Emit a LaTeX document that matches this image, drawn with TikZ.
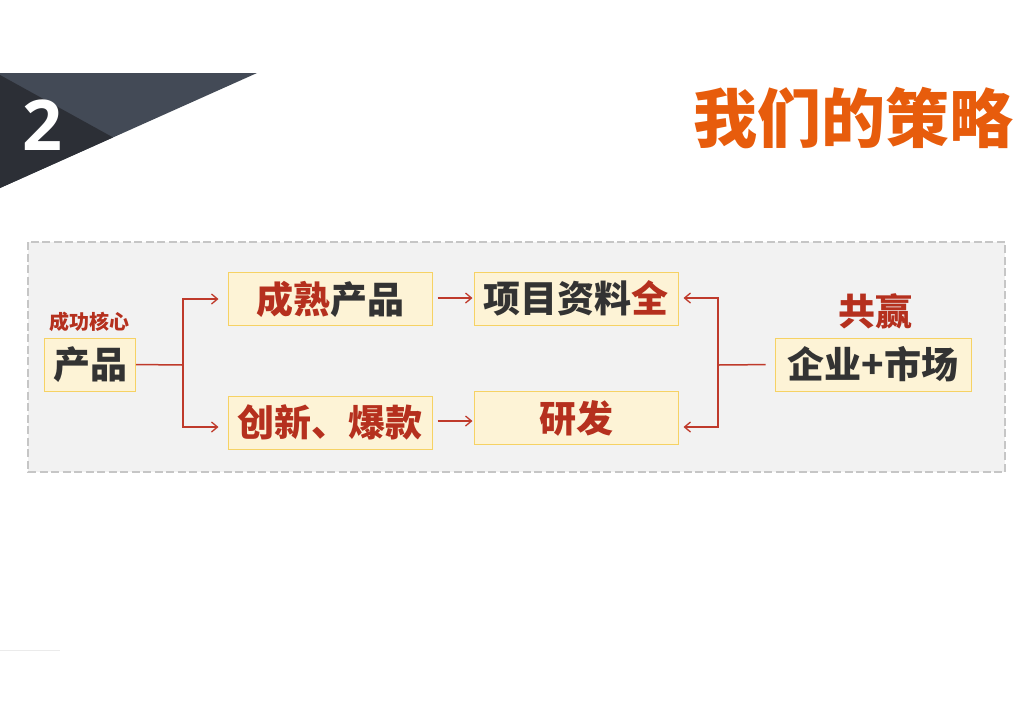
\documentclass[tikz,border=0pt]{standalone}
\usepackage{fontspec}
\setmainfont{Open Sans}
\newfontfamily\cjk{Noto Sans CJK SC}
\usetikzlibrary{arrows.meta}
\definecolor{hdrlight}{HTML}{434A56}
\definecolor{hdrdark}{HTML}{2C2F36}
\definecolor{titleorange}{HTML}{E75C0C}
\definecolor{accent}{HTML}{B5301E}
\definecolor{darktext}{HTML}{333333}
\definecolor{boxfill}{HTML}{FDF3D6}
\definecolor{boxline}{HTML}{F6D264}
\definecolor{panelfill}{HTML}{F2F2F2}
\definecolor{panelline}{HTML}{C6C6C6}
\definecolor{linkred}{HTML}{BF3A2B}
\newcommand\hl[1]{\textcolor{accent}{#1}}
\tikzset{
  box/.style={draw=boxline, fill=boxfill, line width=1pt, minimum height=53pt,
    inner sep=0pt, text=darktext, font=\cjk\bfseries\fontsize{37}{37}\selectfont},
  smallred/.style={inner sep=0pt, text=accent, font=\cjk\bfseries\fontsize{20}{20}\selectfont},
  bigred/.style={inner sep=0pt, text=accent, font=\cjk\bfseries\fontsize{37}{37}\selectfont},
  link/.style={draw=linkred, line width=1.5pt},
  arrowlink/.style={link, -{Straight Barb[length=6pt,width=10pt,line width=1.3pt]}},
}
\begin{document}
\begin{tikzpicture}[x=1pt,y=-1pt]
\useasboundingbox (0,0) rectangle (1024,724);
\fill[white] (0,0) rectangle (1024,724);
% header
\fill[hdrlight] (0,73) -- (257,73) -- (0,188) -- cycle;
\fill[hdrdark] (0,75) -- (113,137.4) -- (0,188) -- cycle;
\node[inner sep=0pt, text=white, font=\bfseries\fontsize{70}{70}\selectfont] (num) at (42.5,125) {2};
\node[inner sep=0pt, text=titleorange, font=\cjk\bfseries\fontsize{64}{64}\selectfont] (title) at (853,118) {我们的策略};
% faint line
\draw[draw=black!8, line width=1pt] (0,650) -- (60,650);
% panel
\draw[fill=panelfill, draw=panelline, line width=2pt, dash pattern=on 8pt off 3.5pt] (28,242) rectangle (1005,472);
% nodes
\node[box, minimum width=91pt] (p) at (90,364.5) {产品};
\node[smallred] (pl) at (89.5,322) {成功核心};
\node[box, minimum width=204pt] (m1) at (330,299) {\hl{成熟}产品};
\node[box, minimum width=204pt] (m2) at (330,422.5) {\hl{创新、爆款}};
\node[box, minimum width=204pt] (r1) at (576,298.5) {项目资料\hl{全}};
\node[box, minimum width=204pt] (r2) at (576,418) {\hl{研发}};
\node[box, minimum width=196pt] (e) at (873,364.5) {企业+市场};
\node[bigred] (gy) at (875,311) {共赢};
% connectors
\coordinate (j1) at (183,365);
\coordinate (j2) at (718,365);
\draw[link] (p.east) -- (j1);
\draw[arrowlink, shorten >=9pt] (j1) |- (m1.west);
\draw[arrowlink, shorten >=9pt] (j1) |- ([yshift=-4.5pt]m2.west);
\draw[arrowlink, shorten <=5pt, shorten >=1pt] ([yshift=1pt]m1.east) -- ([yshift=0.5pt]r1.west);
\draw[arrowlink, shorten <=5pt, shorten >=1pt] ([yshift=1.5pt]m2.east) -- ([yshift=-3pt]r2.west);
\draw[link, shorten <=9pt] (e.west) -- (j2);
\draw[arrowlink, shorten >=5pt] (j2) |- ([yshift=0.5pt]r1.east);
\draw[arrowlink, shorten >=5pt] (j2) |- ([yshift=-9pt]r2.east);
\end{tikzpicture}
\end{document}
